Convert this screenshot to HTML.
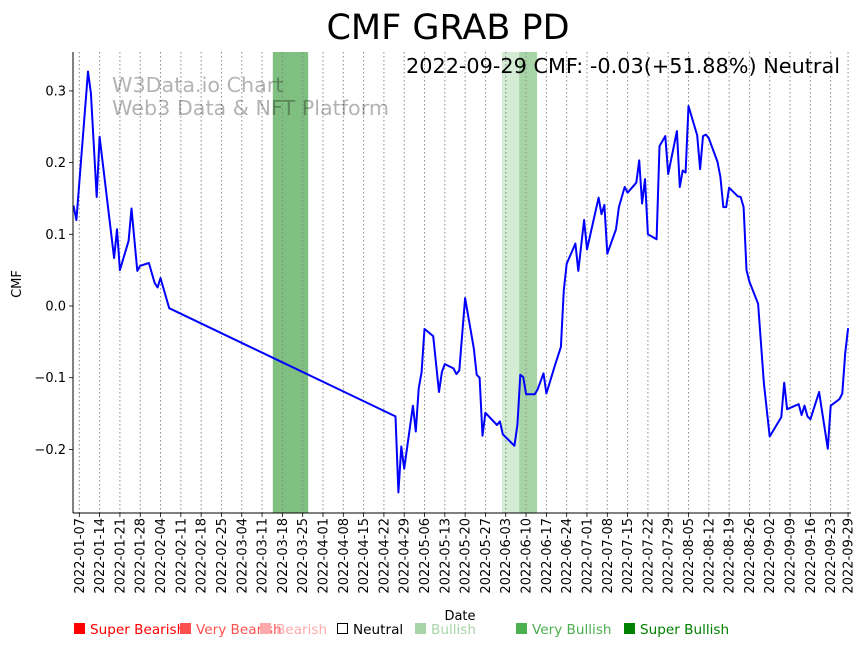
<!DOCTYPE html>
<html><head><meta charset="utf-8"><style>
body{margin:0;background:#fff;width:867px;height:646px;overflow:hidden;font-family:"Liberation Sans","DejaVu Sans",sans-serif}
svg text{font-family:"DejaVu Sans","Liberation Sans",sans-serif}
</style></head><body>
<svg id="chart" width="867" height="646" xmlns="http://www.w3.org/2000/svg">
<text x="448" y="39" font-size="35" text-anchor="middle" fill="#000">CMF GRAB PD</text>
<g id="bands"></g>
<g id="grid"></g>
<text x="112" y="92" font-size="20.7" fill="#000" fill-opacity="0.3">W3Data.io Chart</text>
<text x="112" y="115" font-size="20.7" fill="#000" fill-opacity="0.3">Web3 Data &amp; NFT Platform</text>
<g id="series"></g>
<g id="axes"></g>
<text x="840" y="73" font-size="20.6" text-anchor="end" fill="#000" textLength="434" lengthAdjust="spacingAndGlyphs">2022-09-29 CMF: -0.03(+51.88%) Neutral</text>
<text transform="translate(21,284) rotate(-90)" font-size="13" text-anchor="middle">CMF</text>
<text x="460" y="620" font-size="13" text-anchor="middle">Date</text>
<g id="legend"></g>
</svg>
<script>
const days = [-2,-1,3,4,6,7,12,13,14,17,18,20,21,24,26,27,28,31,109,110,111,112,115,116,117,118,119,122,124,125,126,129,130,131,133,136,137,138,139,140,144,145,146,150,151,152,153,154,157,158,160,161,164,166,167,168,171,172,174,175,179,180,181,182,185,186,188,189,192,193,194,195,196,199,200,202,203,206,207,208,209,210,213,214,215,216,217,220,221,222,223,224,227,228,229,230,231,234,236,238,242,243,244,248,249,250,251,252,255,258,259,262,263,264,265];
const cmf = [0.14,0.12,0.327,0.297,0.152,0.236,0.067,0.107,0.05,0.091,0.136,0.049,0.056,0.06,0.032,0.026,0.039,-0.003,-0.154,-0.26,-0.196,-0.227,-0.139,-0.175,-0.115,-0.092,-0.032,-0.042,-0.12,-0.092,-0.081,-0.087,-0.095,-0.09,0.011,-0.059,-0.096,-0.1,-0.181,-0.149,-0.166,-0.161,-0.179,-0.195,-0.166,-0.096,-0.099,-0.123,-0.123,-0.116,-0.094,-0.122,-0.082,-0.057,0.022,0.059,0.087,0.049,0.12,0.079,0.151,0.128,0.141,0.073,0.107,0.138,0.166,0.158,0.172,0.203,0.143,0.177,0.1,0.093,0.223,0.237,0.184,0.244,0.166,0.189,0.186,0.279,0.238,0.191,0.237,0.239,0.234,0.201,0.18,0.138,0.138,0.165,0.153,0.152,0.138,0.05,0.034,0.003,-0.108,-0.182,-0.155,-0.107,-0.144,-0.137,-0.152,-0.139,-0.154,-0.158,-0.12,-0.199,-0.139,-0.13,-0.122,-0.066,-0.031];
const yTicks = [0.3,0.2,0.1,0.0,-0.1,-0.2];
const yTickLabels = ["0.3","0.2","0.1","0.0","\u22120.1","\u22120.2"];
const xTickDays = [0,7,14,21,28,35,42,49,56,63,70,77,84,91,98,105,112,119,126,133,140,147,154,161,168,175,182,189,196,203,210,217,224,231,238,245,252,259,265];
const bandStart = [66.7,145.7,151.6];
const bandEnd = [78.9,151.6,157.8];
const bandColor = ["#7fbf7f","#d4ebd4","#a8d5a8"];
const base = new Date(Date.UTC(2022,0,7));
const NS="http://www.w3.org/2000/svg";
const L=73,R=851,T=52,B=513;
const xs = d => 79.3 + d*2.901;
const ys = v => 306 - v*717;
function mk(tag,attrs,parent){const e=document.createElementNS(NS,tag);for(const k in attrs)e.setAttribute(k,attrs[k]);parent.appendChild(e);return e;}
const bands=document.getElementById('bands'),grid=document.getElementById('grid'),series=document.getElementById('series'),axes=document.getElementById('axes'),legend=document.getElementById('legend');
for(let i=0;i<bandStart.length;i++){
 const r=mk('rect',{x:xs(bandStart[i]),y:T,width:xs(bandEnd[i])-xs(bandStart[i]),height:B-T,fill:bandColor[i]},bands);
 
 
}
for(const dd of xTickDays){
 const x=xs(dd);
 const g=mk('line',{x1:x,x2:x,y1:T,y2:B,stroke:'#888','stroke-width':1,'stroke-dasharray':'1.5,2.5'},grid);
 
 
 mk('line',{x1:x,x2:x,y1:B,y2:B+4,stroke:'#000','stroke-width':0.8},axes);
 const d=new Date(base.getTime()+dd*86400000);
 const lbl=d.toISOString().slice(0,10);
 const t=mk('text',{transform:`translate(${x+4.5},518) rotate(-90)`,'font-size':13,'text-anchor':'end'},axes);
 t.textContent=lbl;
 
 
}
for(let i=0;i<yTicks.length;i++){
 const y=ys(yTicks[i]);
 mk('line',{x1:L-4,x2:L,y1:y,y2:y,stroke:'#000','stroke-width':0.8},axes);
 const t=mk('text',{x:L-7,y:y+4.5,'font-size':13,'text-anchor':'end'},axes);
 t.textContent=yTickLabels[i];
 
 
}
const sp1=mk('line',{x1:L,x2:L,y1:T,y2:B,stroke:'#000','stroke-width':1},axes);


const sp2=mk('line',{x1:L,x2:R,y1:B,y2:B,stroke:'#000','stroke-width':1},axes);


const pts=days.map((d,i)=>xs(d).toFixed(1)+','+ys(cmf[i]).toFixed(1)).join(' ');
const pl=mk('polyline',{points:pts,fill:'none',stroke:'#0000ff','stroke-width':2,'stroke-linejoin':'round'},series);


const legNames=["Super Bearish","Very Bearish","Bearish","Neutral","Bullish","Very Bullish","Super Bullish"];
const legColors=["#ff0000","#ff5050","#ffaaaa","#000","#a8d5a8","#4caf50","#008000"];
const legSq=[74,180,260,337,415,516,624];
for(let i=0;i<legNames.length;i++){
 const x=legSq[i];
 const s=mk('rect',i===3?{x:x+0.5,y:623.5,width:10,height:10,fill:'#fff',stroke:'#000'}:{x:x,y:623,width:11,height:11,fill:legColors[i]},legend);
 
 
 const t=mk('text',{x:x+16,y:634,'font-size':13.6,fill:legColors[i]},legend);
 t.textContent=legNames[i];
 
 
}
</script>
</body></html>
